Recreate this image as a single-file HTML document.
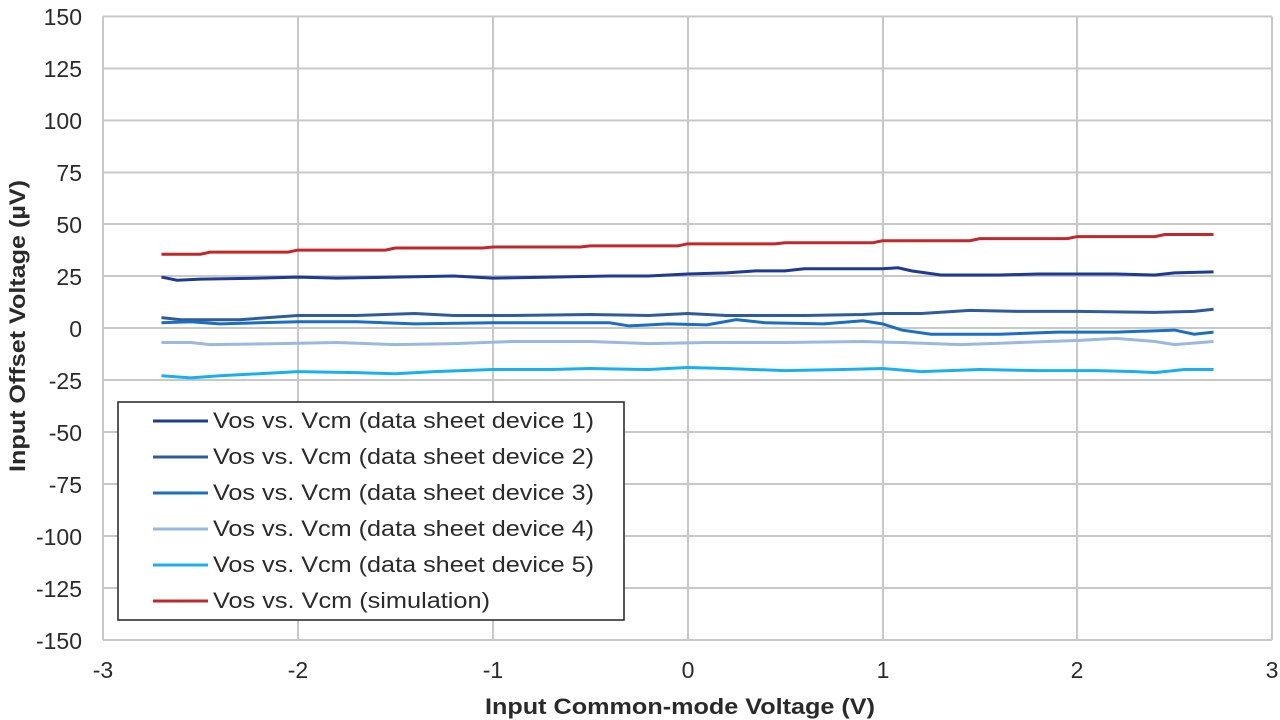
<!DOCTYPE html>
<html><head><meta charset="utf-8"><style>
body{margin:0;background:#fff;width:1280px;height:720px;overflow:hidden}
svg{display:block}
text{font-family:"Liberation Sans",Arial,sans-serif;fill:#2a2a2a}
</style></head><body>
<svg width="1280" height="720" viewBox="0 0 1280 720">
<g stroke="#c8c8c8" stroke-width="2" fill="none">
<line x1="103" y1="16.5" x2="1272" y2="16.5"/>
<line x1="103" y1="68.5" x2="1272" y2="68.5"/>
<line x1="103" y1="120.5" x2="1272" y2="120.5"/>
<line x1="103" y1="172.5" x2="1272" y2="172.5"/>
<line x1="103" y1="224" x2="1272" y2="224"/>
<line x1="103" y1="276" x2="1272" y2="276"/>
<line x1="103" y1="328" x2="1272" y2="328"/>
<line x1="103" y1="380" x2="1272" y2="380"/>
<line x1="103" y1="432" x2="1272" y2="432"/>
<line x1="103" y1="484" x2="1272" y2="484"/>
<line x1="103" y1="536" x2="1272" y2="536"/>
<line x1="103" y1="588" x2="1272" y2="588"/>
<line x1="103" y1="640" x2="1272" y2="640"/>
<line x1="103" y1="16.5" x2="103" y2="640"/>
<line x1="298" y1="16.5" x2="298" y2="640"/>
<line x1="493" y1="16.5" x2="493" y2="640"/>
<line x1="688" y1="16.5" x2="688" y2="640"/>
<line x1="883" y1="16.5" x2="883" y2="640"/>
<line x1="1077" y1="16.5" x2="1077" y2="640"/>
<line x1="1272" y1="16.5" x2="1272" y2="640"/>
</g>
<g font-size="23" text-anchor="end">
<text x="82" y="25">150</text><text x="82" y="77">125</text><text x="82" y="129">100</text>
<text x="82" y="181">75</text><text x="82" y="233">50</text><text x="82" y="285">25</text>
<text x="82" y="337">0</text><text x="82" y="389">-25</text><text x="82" y="441">-50</text>
<text x="82" y="493">-75</text><text x="82" y="545">-100</text><text x="82" y="597">-125</text>
<text x="82" y="649">-150</text>
</g>
<g font-size="23" text-anchor="middle">
<text x="103" y="678">-3</text><text x="298" y="678">-2</text><text x="493" y="678">-1</text>
<text x="688" y="678">0</text><text x="883" y="678">1</text><text x="1077" y="678">2</text><text x="1272" y="678">3</text>
</g>
<text x="485" y="714" font-size="22" font-weight="bold" textLength="390" lengthAdjust="spacingAndGlyphs">Input Common-mode Voltage (V)</text>
<text transform="translate(25,472) rotate(-90)" font-size="22" font-weight="bold" textLength="292" lengthAdjust="spacingAndGlyphs">Input Offset Voltage (µV)</text>
<g transform="translate(687.5,328) scale(194.83,-2.078)" fill="none" stroke-width="3">
<polyline vector-effect="non-scaling-stroke" stroke="#c0282c" points="-2.7,35.5 -2.5,35.5 -2.45,36.5 -2.05,36.5 -2,37.5 -1.55,37.5 -1.5,38.5 -1.05,38.5 -1,39 -0.55,39 -0.5,39.5 -0.05,39.5 0,40.5 0.45,40.5 0.5,41 0.95,41 1,42 1.45,42 1.5,43 1.95,43 2,44 2.4,44 2.45,45 2.7,45"/>
<polyline vector-effect="non-scaling-stroke" stroke="#1f3a93" points="-2.7,24.5 -2.62,23 -2.5,23.5 -2.2,24 -2.0,24.5 -1.8,24 -1.5,24.5 -1.2,25 -1,24 -0.7,24.5 -0.4,25 -0.2,25 0,26 0.2,26.5 0.35,27.5 0.5,27.5 0.6,28.5 1.0,28.5 1.08,29 1.15,27.5 1.3,25.5 1.6,25.5 1.8,26 2.0,26 2.2,26 2.4,25.5 2.5,26.5 2.7,27"/>
<polyline vector-effect="non-scaling-stroke" stroke="#2e5c9a" points="-2.7,5 -2.6,4 -2.3,4 -2.0,6 -1.7,6 -1.4,7 -1.2,6 -0.9,6 -0.5,6.5 -0.2,6 0,7 0.2,6 0.6,6 0.9,6.5 1.0,7 1.2,7 1.45,8.5 1.7,8 2.0,8 2.4,7.5 2.6,8 2.7,9"/>
<polyline vector-effect="non-scaling-stroke" stroke="#1a6fc0" points="-2.7,2.5 -2.55,3 -2.4,2 -2.2,2.5 -2.0,3 -1.7,3 -1.4,2 -1.0,2.5 -0.6,2.5 -0.4,2.5 -0.3,1 -0.1,2 0.1,1.5 0.25,4 0.4,2.5 0.7,2 0.9,3.5 1.0,2 1.1,-1 1.25,-3 1.6,-3 1.9,-2 2.2,-2 2.5,-1 2.6,-3 2.7,-2"/>
<polyline vector-effect="non-scaling-stroke" stroke="#9ab8e0" points="-2.7,-7 -2.55,-7 -2.45,-8 -2.1,-7.5 -1.8,-7 -1.5,-8 -1.2,-7.5 -0.9,-6.5 -0.5,-6.5 -0.2,-7.5 0.1,-7 0.5,-7 0.9,-6.5 1.1,-7 1.4,-8 1.7,-7 2.0,-6 2.2,-5 2.4,-6.5 2.5,-8 2.7,-6.5"/>
<polyline vector-effect="non-scaling-stroke" stroke="#1ab0ee" points="-2.7,-23 -2.55,-24 -2.4,-23 -2.2,-22 -2.0,-21 -1.7,-21.5 -1.5,-22 -1.3,-21 -1.0,-20 -0.7,-20 -0.5,-19.5 -0.2,-20 0,-19 0.2,-19.5 0.5,-20.5 0.8,-20 1.0,-19.5 1.2,-21 1.5,-20 1.8,-20.5 2.1,-20.5 2.3,-21 2.4,-21.5 2.55,-20 2.7,-20"/>
</g>
<rect x="118" y="402" width="506" height="218" fill="#fff" stroke="#222" stroke-width="1.5"/>
<g stroke-width="3">
<line x1="153" y1="421" x2="208" y2="421" stroke="#1f3a93"/>
<line x1="153" y1="457" x2="208" y2="457" stroke="#2e5c9a"/>
<line x1="153" y1="493" x2="208" y2="493" stroke="#1a6fc0"/>
<line x1="153" y1="529" x2="208" y2="529" stroke="#9ab8e0"/>
<line x1="153" y1="565" x2="208" y2="565" stroke="#1ab0ee"/>
<line x1="153" y1="601" x2="208" y2="601" stroke="#c0282c"/>
</g>
<g font-size="22">
<text x="213" y="428" textLength="381" lengthAdjust="spacingAndGlyphs">Vos vs. Vcm (data sheet device 1)</text>
<text x="213" y="464" textLength="381" lengthAdjust="spacingAndGlyphs">Vos vs. Vcm (data sheet device 2)</text>
<text x="213" y="500" textLength="381" lengthAdjust="spacingAndGlyphs">Vos vs. Vcm (data sheet device 3)</text>
<text x="213" y="536" textLength="381" lengthAdjust="spacingAndGlyphs">Vos vs. Vcm (data sheet device 4)</text>
<text x="213" y="572" textLength="381" lengthAdjust="spacingAndGlyphs">Vos vs. Vcm (data sheet device 5)</text>
<text x="213" y="608" textLength="277" lengthAdjust="spacingAndGlyphs">Vos vs. Vcm (simulation)</text>
</g>
</svg>
</body></html>
